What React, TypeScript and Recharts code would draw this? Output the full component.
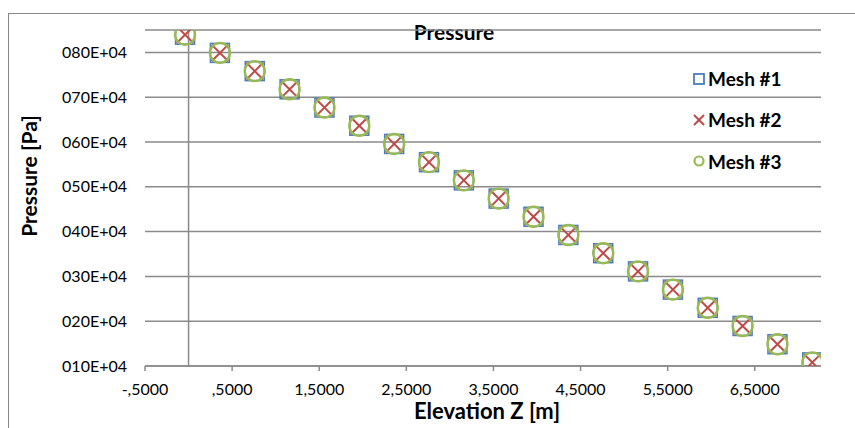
import React from "react";
import {
  ScatterChart,
  Scatter,
  XAxis,
  YAxis,
  CartesianGrid,
  ReferenceLine,
  Legend,
} from "recharts";

// elevation [m] of each sample
const elevation = [
  -0.04, 0.36, 0.76, 1.16, 1.56, 1.96, 2.36, 2.76, 3.16, 3.56, 3.96, 4.36,
  4.76, 5.16, 5.56, 5.96, 6.36, 6.76, 7.16,
];

// pressure [Pa] per mesh
const mesh1 = [
  839500, 798900, 758200, 717600, 676900, 636300, 595700, 555000, 514400,
  473700, 433100, 392500, 351800, 311200, 270500, 229900, 189300, 148600,
  108000,
];
const mesh2 = [
  839500, 798900, 758200, 717600, 676900, 636300, 595700, 555000, 514400,
  473700, 433100, 392500, 351800, 311200, 270500, 229900, 189300, 148600,
  108000,
];
const mesh3 = [
  839500, 798900, 758200, 717600, 676900, 636300, 595700, 555000, 514400,
  473700, 433100, 392500, 351800, 311200, 270500, 229900, 189300, 148600,
  108000,
];

const xTicks = [-0.5, 0.5, 1.5, 2.5, 3.5, 4.5, 5.5, 6.5];
const xTickLabels = [
  "-,5000",
  ",5000",
  "1,5000",
  "2,5000",
  "3,5000",
  "4,5000",
  "5,5000",
  "6,5000",
];
const yTicks = [100000, 200000, 300000, 400000, 500000, 600000, 700000, 800000];
const yTickLabels = [
  "010E+04",
  "020E+04",
  "030E+04",
  "040E+04",
  "050E+04",
  "060E+04",
  "070E+04",
  "080E+04",
];

const BLUE = "#4a7ebb";
const RED = "#be4b48";
const GREEN = "#98b954";
const GRID = "#8a8a8a";
const FONT = "Lato, 'Open Sans', sans-serif";

const toPoints = (ys: number[]) => elevation.map((x, i) => ({ x, y: ys[i] }));

const SquareDot = ({ cx, cy, s = 19, w = 1.5 }: any) => (
  <rect
    x={cx - s / 2}
    y={cy - s / 2}
    width={s}
    height={s}
    fill="none"
    stroke={BLUE}
    strokeWidth={w}
  />
);

const CrossDot = ({ cx, cy, s = 8.3 }: any) => (
  <g stroke={RED} strokeWidth={2}>
    <line x1={cx - s} y1={cy - s} x2={cx + s} y2={cy + s} />
    <line x1={cx - s} y1={cy + s} x2={cx + s} y2={cy - s} />
  </g>
);

const CircleDot = ({ cx, cy, r = 10, w = 2.4 }: any) => (
  <circle cx={cx} cy={cy} r={r} fill="none" stroke={GREEN} strokeWidth={w} />
);

const legendItems = [
  { name: "Mesh #1", icon: <SquareDot cx={6} cy={6} s={10} w={1.8} /> },
  { name: "Mesh #2", icon: <CrossDot cx={6} cy={6} s={5} /> },
  { name: "Mesh #3", icon: <CircleDot cx={6} cy={6} r={4.5} w={2.2} /> },
];

const LegendBox = () => (
  <div style={{ fontFamily: FONT }}>
    {legendItems.map((it) => (
      <div
        key={it.name}
        style={{ display: "flex", alignItems: "center", height: 41.3 }}
      >
        <svg width={12} height={12} style={{ marginRight: 3 }}>
          {it.icon}
        </svg>
        <span style={{ fontWeight: 700, fontSize: 19, color: "#000" }}>
          {it.name}
        </span>
      </div>
    ))}
  </div>
);

export default function App() {
  return (
    <div
      style={{
        position: "fixed",
        left: 0,
        top: 0,
        width: 855,
        height: 428,
        overflow: "hidden",
        background: "#fff",
        fontFamily: FONT,
      }}
    >
      <div
        style={{
          position: "absolute",
          left: 8,
          top: 13,
          width: 900,
          height: 440,
          border: "1.5px solid #878787",
        }}
      />
      <div
        style={{
          position: "absolute",
          left: 0,
          width: 908,
          top: 18.5,
          textAlign: "center",
          fontWeight: 700,
          fontSize: 21,
          lineHeight: "1.2",
          color: "#000",
        }}
      >
        Pressure
      </div>
      <ScatterChart
        width={855}
        height={428}
        margin={{ top: 30, right: 34, bottom: 0, left: 0 }}
        style={{ position: "absolute", left: 0, top: 0 }}
      >
        <CartesianGrid vertical={false} stroke={GRID} strokeWidth={1.5} />
        <XAxis
          type="number"
          dataKey="x"
          domain={[-0.5, 7.26]}
          ticks={xTicks}
          allowDataOverflow
          height={62}
          tickSize={5}
          tickMargin={13}
          stroke={GRID}
          strokeWidth={1.5}
          tick={{ fill: "#000", fontSize: 16, fontFamily: FONT }}
          tickFormatter={(_v: number, i: number) => xTickLabels[i]}
          label={{
            value: "Elevation Z [m]",
            position: "insideBottom",
            offset: 9,
            dx: 4,
            fill: "#000",
            fontSize: 22,
            fontWeight: 700,
            fontFamily: FONT,
          }}
        />
        <YAxis
          type="number"
          dataKey="y"
          domain={[100000, 850000]}
          ticks={yTicks}
          allowDataOverflow
          width={145}
          axisLine={false}
          tickLine={false}
          tickSize={0}
          tickMargin={18}
          tick={{ fill: "#000", fontSize: 16, fontFamily: FONT }}
          tickFormatter={(_v: number, i: number) => yTickLabels[i]}
          label={{
            content: () => (
              <text
                x={28}
                y={176}
                transform="rotate(-90 28 176)"
                textAnchor="middle"
                dominantBaseline="central"
                fill="#000"
                fontSize={21}
                fontWeight={700}
                fontFamily={FONT}
              >
                Pressure [Pa]
              </text>
            ),
          }}
        />
        <ReferenceLine x={0} stroke={GRID} strokeWidth={1.5} />
        <Legend
          layout="vertical"
          align="center"
          verticalAlign="middle"
          wrapperStyle={{ left: 693, top: 58, width: 130, height: 124 }}
          content={() => <LegendBox />}
        />
        <Scatter
          name="Mesh #1"
          data={toPoints(mesh1)}
          isAnimationActive={false}
          shape={(p: any) => <SquareDot cx={p.cx} cy={p.cy} />}
        />
        <Scatter
          name="Mesh #2"
          data={toPoints(mesh2)}
          isAnimationActive={false}
          shape={(p: any) => <CrossDot cx={p.cx} cy={p.cy} />}
        />
        <Scatter
          name="Mesh #3"
          data={toPoints(mesh3)}
          isAnimationActive={false}
          shape={(p: any) => <CircleDot cx={p.cx} cy={p.cy} />}
        />
      </ScatterChart>
    </div>
  );
}
